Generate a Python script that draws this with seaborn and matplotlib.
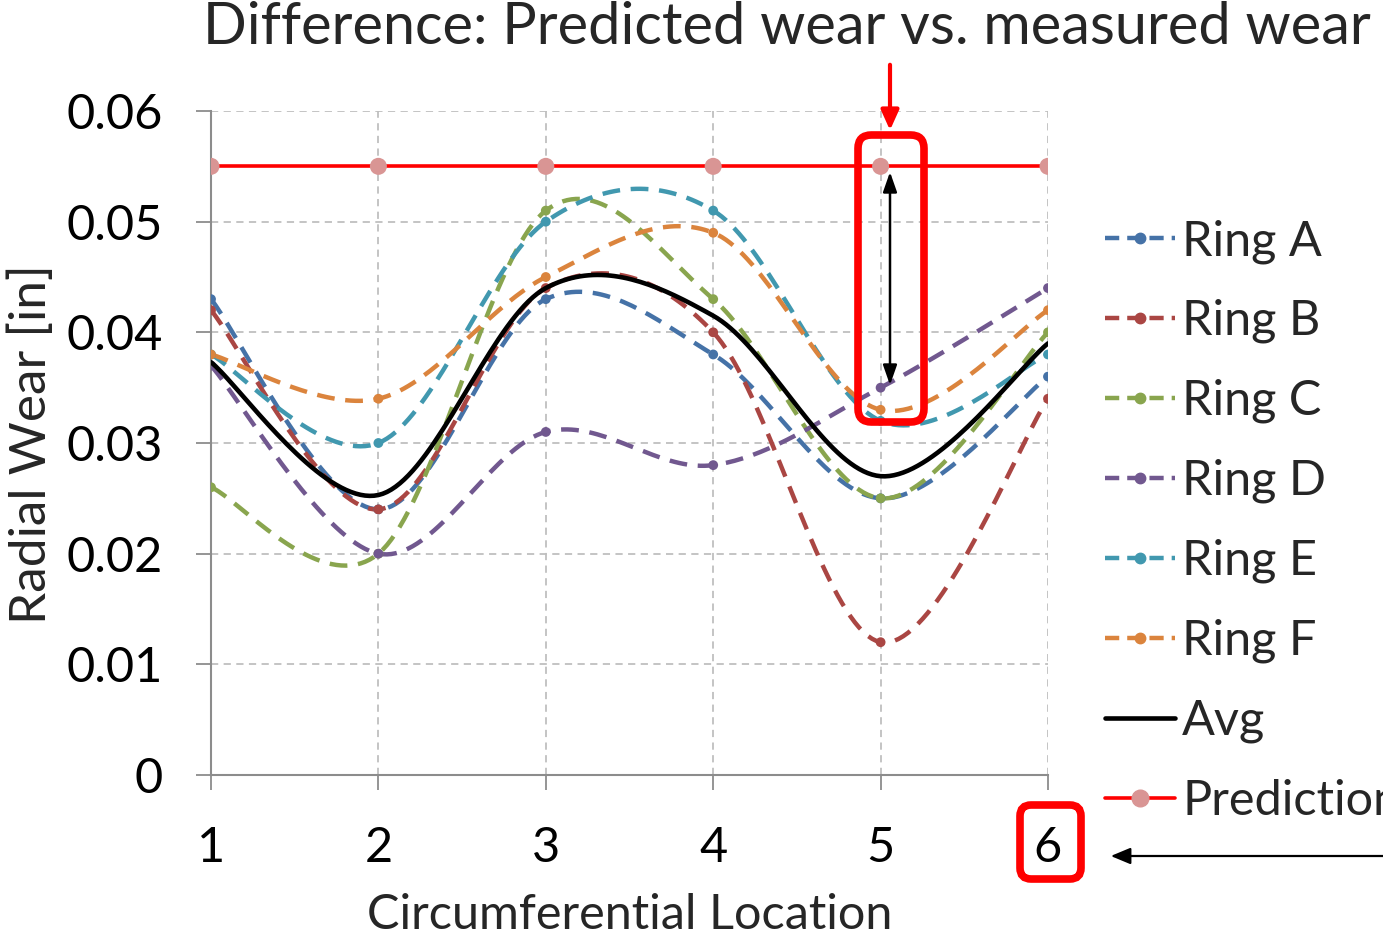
import numpy as np
import pandas as pd
import matplotlib
matplotlib.use("Agg")
import matplotlib.pyplot as plt
import seaborn as sns
from matplotlib.lines import Line2D
from matplotlib.patches import FancyBboxPatch

# ---- data ----
locations = [1, 2, 3, 4, 5, 6]
ring_a = [0.043, 0.024, 0.043, 0.038, 0.025, 0.036]
ring_b = [0.042, 0.024, 0.044, 0.040, 0.012, 0.034]
ring_c = [0.026, 0.020, 0.051, 0.043, 0.025, 0.040]
ring_d = [0.037, 0.020, 0.031, 0.028, 0.035, 0.044]
ring_e = [0.038, 0.030, 0.050, 0.051, 0.032, 0.038]
ring_f = [0.038, 0.034, 0.045, 0.049, 0.033, 0.042]
avg = [0.0373, 0.0253, 0.044, 0.0415, 0.027, 0.039]
prediction = [0.055, 0.055, 0.055, 0.055, 0.055, 0.055]
series_names = ["Ring A", "Ring B", "Ring C", "Ring D", "Ring E", "Ring F"]
series_vals = [ring_a, ring_b, ring_c, ring_d, ring_e, ring_f]
colors = ["#4572A7", "#AA4643", "#89A54E", "#71588F", "#4198AF", "#DB843D"]
yticks = [0, 0.01, 0.02, 0.03, 0.04, 0.05, 0.06]
ytick_labels = ["0", "0.01", "0.02", "0.03", "0.04", "0.05", "0.06"]

title = "Difference: Predicted wear vs. measured wear"
xlabel = "Circumferential Location"
ylabel = "Radial Wear [in]"

FONT = "Lato"


def smooth(xs, ys, n=40):
    """Excel-like smoothed line (Catmull-Rom Bezier through the points)."""
    P = np.column_stack([xs, ys]).astype(float)
    Pe = np.vstack([P[0], P, P[-1]])
    out = []
    t = np.linspace(0, 1, n)
    for i in range(1, len(Pe) - 2):
        p0, p1, p2, p3 = Pe[i - 1], Pe[i], Pe[i + 1], Pe[i + 2]
        c1 = p1 + (p2 - p0) / 6.0
        c2 = p2 - (p3 - p1) / 6.0
        seg = ((1 - t) ** 3)[:, None] * p1 + (3 * (1 - t) ** 2 * t)[:, None] * c1 \
            + (3 * (1 - t) * t ** 2)[:, None] * c2 + (t ** 3)[:, None] * p2
        out.append(seg if i == 1 else seg[1:])
    S = np.vstack(out)
    return S[:, 0], S[:, 1]


sns.set_theme(style="white")
plt.rcParams["font.family"] = [FONT, "DejaVu Sans"]

W, H = 1383, 944
fig = plt.figure(figsize=(W / 100, H / 100), dpi=100)
L, R, T, B = 211, 1048, 111, 775
ax = fig.add_axes([L / W, 1 - B / H, (R - L) / W, (B - T) / H])

dash = (4.0, 2.4)
LW = 3.2
for name, vals, c in zip(series_names, series_vals, colors):
    sx, sy = smooth(locations, vals)
    sns.lineplot(x=sx, y=sy, ax=ax, sort=False, estimator=None, color=c,
                 lw=LW, dashes=False, linestyle=(0, dash), zorder=3)
    sns.scatterplot(x=locations, y=vals, ax=ax, color=c, s=50,
                    edgecolor="none", zorder=4)

sx, sy = smooth(locations, avg)
sns.lineplot(x=sx, y=sy, ax=ax, sort=False, estimator=None, color="black",
             lw=3.3, zorder=5)

sns.lineplot(x=locations, y=prediction, ax=ax, color="#FF0000", lw=2.6, zorder=5)
sns.scatterplot(x=locations, y=prediction, ax=ax, color="#D99594", s=150,
                edgecolor="none", zorder=6)

ax.set_xlim(1, 6)
ax.set_ylim(0, 0.06)
ax.set_xticks(locations)
ax.set_xticklabels([str(v) for v in locations])
ax.set_yticks(yticks)
ax.set_yticklabels(ytick_labels)
ax.tick_params(axis="both", which="both", direction="out", length=11,
               width=1.3, color="#8C8C8C", labelsize=35, labelcolor="black")
ax.tick_params(axis="y", pad=24)
ax.tick_params(axis="x", pad=26)
ax.tick_params(bottom=True, left=True)
ax.grid(True, color="#BFBFBF", linestyle=(0, (4, 3)), lw=1.3)
for s in ["top", "right"]:
    ax.spines[s].set_visible(False)
for s in ["left", "bottom"]:
    ax.spines[s].set_color("#8C8C8C")
    ax.spines[s].set_linewidth(1.5)
ax.set_axisbelow(True)

ax.set_xlabel(xlabel, fontsize=35)
ax.xaxis.set_label_coords((630 - L) / (R - L), (B - 915) / (B - T))
ax.xaxis.label.set_va("center")
ax.set_ylabel(ylabel, fontsize=37)
ax.yaxis.set_label_coords((32 - L) / (R - L), (B - 444) / (B - T))
ax.yaxis.label.set_va("center")

fig.text(203 / W, 1 - 27 / H, title, fontsize=41.5, ha="left", va="center")

# ---- annotations ----
def px2data(px, py):
    return 1 + (px - L) / (R - L) * 5, (B - py) / (B - T) * 0.06

x0, y0 = px2data(858, 422)
x1, y1 = px2data(924, 135)
box = FancyBboxPatch((x0, y0), x1 - x0, y1 - y0, boxstyle="round,pad=0,rounding_size=0.08",
                     mutation_aspect=(0.06 / 664) / (5 / 837),
                     fill=False, ec="#FF0000", lw=5.5, zorder=8, clip_on=False)
ax.add_patch(box)

xa, ya0 = px2data(890, 62)
_, ya1 = px2data(890, 133)
ax.annotate("", xy=(xa, ya1), xytext=(xa, ya0), annotation_clip=False,
            arrowprops=dict(arrowstyle="-|>,head_length=1.0,head_width=0.45",
                            color="#FF0000", lw=3), zorder=9)
_, yb0 = px2data(890, 172)
_, yb1 = px2data(890, 385)
ax.annotate("", xy=(xa, yb1), xytext=(xa, yb0), annotation_clip=False,
            arrowprops=dict(arrowstyle="<|-|>,head_length=1.0,head_width=0.35",
                            color="black", lw=1.8, shrinkA=0, shrinkB=0), zorder=9)

# box around tick label 6 (figure pixel coords)
fb = FancyBboxPatch((1020 / W, 1 - 879 / H), 61 / W, 74 / H,
                    boxstyle="round,pad=0,rounding_size=0.008",
                    mutation_aspect=W / H, transform=fig.transFigure,
                    fill=False, ec="#FF0000", lw=5.5)
fig.patches.append(fb)
fig.add_artist(matplotlib.patches.FancyArrowPatch(
    (1390 / W, 1 - 856 / H), (1108 / W, 1 - 856 / H), transform=fig.transFigure,
    arrowstyle="-|>,head_length=12,head_width=5", color="black", lw=1.6,
    mutation_scale=1))

# ---- legend ----
handles = []
for c in colors:
    handles.append(Line2D([0, 1], [0, 0], color=c, lw=LW, linestyle=(0, (3.2, 1.8)),
                          marker="o", markersize=7.5,
                          markerfacecolor=c, markeredgecolor=c))
handles.append(Line2D([0], [0], color="black", lw=3.3))
handles.append(Line2D([0], [0], color="#FF0000", lw=2.6, marker="o", markersize=12,
                      markerfacecolor="#D99594", markeredgecolor="#D99594"))
labels = series_names + ["Avg", "Prediction"]
leg = fig.legend(handles, labels, loc="upper left",
                 bbox_to_anchor=(1105 / W, 1 - 219 / H), frameon=False,
                 fontsize=35, handlelength=1.44, handletextpad=0.15,
                 labelspacing=0.73, borderpad=0, borderaxespad=0, numpoints=1)

fig.savefig("out.png", dpi=100)
